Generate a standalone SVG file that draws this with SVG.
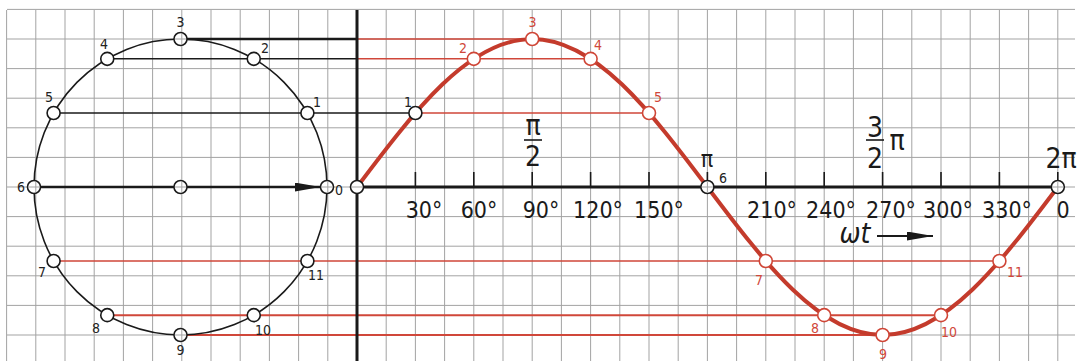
<svg xmlns="http://www.w3.org/2000/svg" width="1079" height="361" viewBox="0 0 1079 361">
<style>
.grid{stroke:#a3a3a3;stroke-width:1;fill:none}
.blk{stroke:#1a1a1a;fill:none}
.red{stroke:#d0473a;fill:none}
.mk{fill:#fff;stroke:#1a1a1a;stroke-width:1.6}
.mkr{fill:#fff;stroke:#cf4637;stroke-width:1.6}
text{font-family:"DejaVu Sans Condensed","DejaVu Sans",sans-serif;font-stretch:condensed}
.sm{font-size:14px;fill:#222;text-anchor:middle}
.smr{font-size:14px;fill:#d0473a;text-anchor:middle}
.ax{font-size:23px;fill:#1a1a1a;text-anchor:middle}
.fr{font-size:28px;fill:#1a1a1a;text-anchor:middle}
</style>
<defs>
<path id="gridpath" d="M6.6,10V361M35.8,10V361M65,10V361M94.2,10V361M123.4,10V361M152.6,10V361M181.8,10V361M211,10V361M240.2,10V361M269.4,10V361M298.6,10V361M327.8,10V361M386.2,10V361M415.4,10V361M444.6,10V361M473.8,10V361M503,10V361M532.2,10V361M561.4,10V361M590.6,10V361M619.8,10V361M649,10V361M678.2,10V361M707.4,10V361M736.6,10V361M765.8,10V361M795,10V361M824.2,10V361M853.4,10V361M882.6,10V361M911.8,10V361M941,10V361M970.2,10V361M999.4,10V361M1028.6,10V361M1057.8,10V361M7,9.4H1075M7,39H1075M7,68.6H1075M7,98.2H1075M7,127.8H1075M7,157.4H1075M7,187H1075M7,216.6H1075M7,246.2H1075M7,275.8H1075M7,305.4H1075M7,335H1075"/>
<clipPath id="mkclip">
<circle cx="327" cy="187" r="5.8"/><circle cx="180.5" cy="39" r="5.8"/><circle cx="34" cy="187" r="5.8"/><circle cx="180.5" cy="335" r="5.8"/><circle cx="180.5" cy="187" r="5.8"/>
<circle cx="357" cy="187" r="5.8"/><circle cx="707.4" cy="187" r="5.8"/><circle cx="1057.8" cy="187" r="5.8"/>
</clipPath>
<marker id="ah" viewBox="0 0 26 9" refX="26" refY="4.5" markerWidth="26" markerHeight="9" markerUnits="userSpaceOnUse" orient="auto"><path d="M0,0L26,4.5L0,9z" fill="#1a1a1a"/></marker>
</defs>

<g id="grid"><use href="#gridpath" class="grid"/></g>

<g id="connectors">
<path class="blk" stroke-width="2.6" d="M187,39H357"/>
<path class="blk" stroke-width="1.5" d="M113.75,58.83H357"/>
<path class="blk" stroke-width="1.5" d="M60.1,113H408.9"/>
<path class="red" stroke-width="1.5" d="M357,39H525.7M357,58.83H584.1M421.9,113H642.5M60.1,261H992.9"/>
<path class="red" stroke-width="2" d="M113.75,315.17H934.5M187,335H876.1"/>
<path class="blk" stroke-width="2.6" d="M40.5,187H320.5" marker-end="url(#ah)"/>
</g>

<g id="phasor-circle">
<ellipse cx="180.5" cy="187" rx="146.5" ry="148" fill="none" stroke="#1a1a1a" stroke-width="1.6"/>
</g>

<g id="axes">
<path class="blk" stroke-width="3" d="M357,10V361M357,187H1057.8"/>
<path class="blk" stroke-width="1.6" d="M415.4,172V187M473.8,172V187M532.2,172V187M590.6,172V187M649,172V187M707.4,172V187M765.8,172V187M824.2,172V187M882.6,172V187M941,172V187M999.4,172V187M1057.8,172V187"/>
</g>

<g id="sine-wave">
<path fill="none" stroke="#c43b2c" stroke-width="4" stroke-linecap="round" d="M357,187C414.14,111.18 468.8,39 532.2,39C595.6,39 650.26,111.18 707.4,187C764.54,262.82 819.2,335 882.6,335C946,335 1000.66,262.82 1057.8,187"/>
</g>

<g id="circle-markers">
<circle class="mk" cx="327" cy="187" r="6.5"/>
<circle class="mk" cx="307.4" cy="113" r="6.5"/>
<circle class="mk" cx="253.75" cy="58.83" r="6.5"/>
<circle class="mk" cx="180.5" cy="39" r="6.5"/>
<circle class="mk" cx="107.25" cy="58.83" r="6.5"/>
<circle class="mk" cx="53.6" cy="113" r="6.5"/>
<circle class="mk" cx="34" cy="187" r="6.5"/>
<circle class="mk" cx="53.6" cy="261" r="6.5"/>
<circle class="mk" cx="107.25" cy="315.17" r="6.5"/>
<circle class="mk" cx="180.5" cy="335" r="6.5"/>
<circle class="mk" cx="253.75" cy="315.17" r="6.5"/>
<circle class="mk" cx="307.4" cy="261" r="6.5"/>
<circle class="mk" cx="180.5" cy="187" r="6.5"/>
</g>

<g id="sine-markers">
<circle class="mk" cx="357" cy="187" r="6.5"/>
<circle class="mk" cx="415.4" cy="113" r="6.5"/>
<circle class="mkr" cx="473.8" cy="58.83" r="6.5"/>
<circle class="mkr" cx="532.2" cy="39" r="6.5"/>
<circle class="mkr" cx="590.6" cy="58.83" r="6.5"/>
<circle class="mkr" cx="649" cy="113" r="6.5"/>
<circle class="mk" cx="707.4" cy="187" r="6.5"/>
<circle class="mkr" cx="765.8" cy="261" r="6.5"/>
<circle class="mkr" cx="824.2" cy="315.17" r="6.5"/>
<circle class="mkr" cx="882.6" cy="335" r="6.5"/>
<circle class="mkr" cx="941" cy="315.17" r="6.5"/>
<circle class="mkr" cx="999.4" cy="261" r="6.5"/>
<circle class="mk" cx="1057.8" cy="187" r="6.5"/>
</g>

<g id="marker-crosses" clip-path="url(#mkclip)"><use href="#gridpath" class="grid"/></g>

<g id="circle-labels">
<text class="sm" x="180.5" y="27">3</text>
<text class="sm" x="104" y="49">4</text>
<text class="sm" x="265" y="53">2</text>
<text class="sm" x="49" y="102">5</text>
<text class="sm" x="317" y="107">1</text>
<text class="sm" x="21" y="192">6</text>
<text class="sm" x="339" y="195">0</text>
<text class="sm" x="42" y="277">7</text>
<text class="sm" x="316" y="280">11</text>
<text class="sm" x="96" y="333">8</text>
<text class="sm" x="263" y="335">10</text>
<text class="sm" x="180.5" y="355">9</text>
</g>

<g id="sine-labels">
<text class="sm" x="408" y="107">1</text>
<text class="smr" x="463" y="53">2</text>
<text class="smr" x="532.5" y="27">3</text>
<text class="smr" x="598" y="50">4</text>
<text class="smr" x="658" y="102">5</text>
<text class="sm" x="723" y="183">6</text>
<text class="smr" x="759" y="285">7</text>
<text class="smr" x="815" y="333">8</text>
<text class="smr" x="883" y="359">9</text>
<text class="smr" x="949" y="337">10</text>
<text class="smr" x="1015" y="277">11</text>
</g>

<g id="axis-labels">
<text class="ax" x="424" y="218">30°</text>
<text class="ax" x="479" y="218">60°</text>
<text class="ax" x="541" y="218">90°</text>
<text class="ax" x="598" y="218">120°</text>
<text class="ax" x="659" y="218">150°</text>
<text class="ax" x="772" y="218">210°</text>
<text class="ax" x="831" y="218">240°</text>
<text class="ax" x="891" y="218">270°</text>
<text class="ax" x="948" y="218">300°</text>
<text class="ax" x="1007" y="218">330°</text>
<text class="ax" x="1063" y="218">0</text>
<text class="fr" x="533" y="135">π</text>
<path class="blk" stroke-width="1.6" d="M524,140H542"/>
<text class="fr" x="533" y="166">2</text>
<text class="ax" x="707" y="167">π</text>
<text class="fr" x="875" y="137">3</text>
<path class="blk" stroke-width="1.6" d="M866,140H884"/>
<text class="fr" x="875" y="168">2</text>
<text class="fr" x="897" y="150">π</text>
<text class="fr" x="1061" y="168">2π</text>
<text class="fr" x="855" y="243" font-style="italic">ωt</text>
<path class="blk" stroke-width="2" d="M877,236H933" marker-end="url(#ah)"/>
</g>
</svg>
